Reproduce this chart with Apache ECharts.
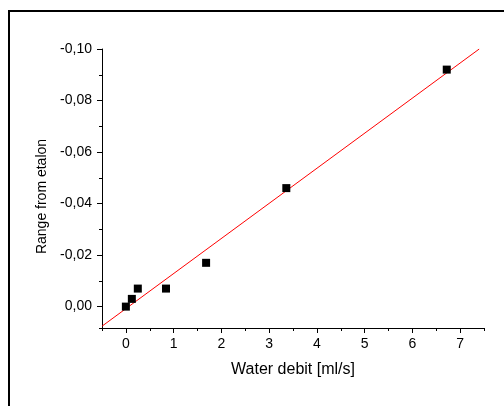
<!DOCTYPE html>
<html>
<head>
<meta charset="utf-8">
<script src="https://cdn.jsdelivr.net/npm/echarts@6/dist/echarts.min.js"></script>
<style>
  html, body { margin: 0; padding: 0; background: #fff; }
  #main { width: 504px; height: 406px; }
</style>
</head>
<body>
<div id="main"></div>
<script>
// measured points
var debit = [0, 0.125, 0.25, 0.84, 1.68, 3.36, 6.72];
var range = [0, -0.003, -0.007, -0.007, -0.017, -0.046, -0.092];
// fitted line, end points
var fitX = [-0.5, 7.4];
var fitY = [0.0076, -0.1];

var font = 'Liberation Sans, Arial, sans-serif';

function comma(v) {
    if (Math.abs(v) < 1e-9) return '0,00';
    return v.toFixed(2).replace('.', ',');
}

var myChart = echarts.init(document.getElementById('main'));

var option = {
    animation: false,
    backgroundColor: '#fff',
    grid: { left: 102, right: 20, top: 49, bottom: 78 },
    graphic: [{
        type: 'rect',
        shape: { x: 9, y: 11, width: 600, height: 600 },
        style: { fill: 'none', stroke: '#000', lineWidth: 2 }
    }],
    xAxis: [
        {
            type: 'value', min: -0.5, max: 7.5, splitNumber: 8,
            name: 'Water debit [ml/s]', nameLocation: 'middle', nameGap: 34,
            nameTextStyle: { fontFamily: font, fontSize: 16, color: '#000' },
            axisLine: { onZero: false, lineStyle: { color: '#000', width: 1 } },
            axisTick: { length: 5, lineStyle: { color: '#000' } },
            axisLabel: { fontFamily: font, fontSize: 14, color: '#000', margin: 9,
                showMinLabel: false, showMaxLabel: false },
            splitLine: { show: false }
        },
        {
            type: 'value', min: -0.5, max: 7.5, interval: 0.5, position: 'bottom',
            axisLine: { show: false, onZero: false },
            axisTick: { length: 3, lineStyle: { color: '#000' } },
            axisLabel: { show: false },
            splitLine: { show: false }
        }
    ],
    yAxis: [
        {
            type: 'value', inverse: true, min: -0.1, max: 0.0083, interval: 0.02,
            name: 'Range from etalon', nameLocation: 'middle', nameGap: 47,
            nameTextStyle: { fontFamily: font, fontSize: 14, color: '#000', padding: [0, 16, 0, 0] },
            axisLine: { show: true, onZero: false, lineStyle: { color: '#000', width: 1 } },
            axisTick: { show: true, length: 5, lineStyle: { color: '#000' } },
            axisLabel: { fontFamily: font, fontSize: 14, color: '#000', margin: 10,
                showMaxLabel: false, formatter: comma },
            splitLine: { show: false }
        },
        {
            type: 'value', inverse: true, min: -0.1, max: 0.0083, interval: 0.01, position: 'left',
            axisLine: { show: false, onZero: false },
            axisTick: { show: true, length: 3, lineStyle: { color: '#000' } },
            axisLabel: { show: false },
            splitLine: { show: false }
        }
    ],
    series: [
        {
            type: 'line',
            data: fitX.map(function (x, i) { return [x, fitY[i]]; }),
            symbol: 'none',
            clip: true,
            lineStyle: { color: '#ff0000', width: 1 },
            z: 2
        },
        {
            type: 'scatter',
            data: debit.map(function (x, i) { return [x, range[i]]; }),
            symbol: 'rect',
            symbolSize: 8,
            itemStyle: { color: '#000', opacity: 1 },
            z: 3
        }
    ]
};

myChart.setOption(option);
</script>
</body>
</html>
